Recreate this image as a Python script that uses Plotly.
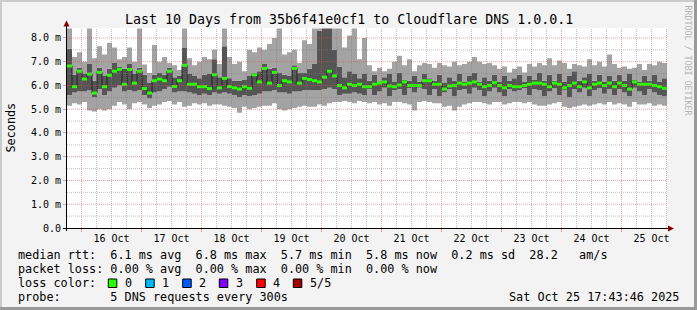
import plotly.graph_objects as go
import pandas as pd

# ---------------- data (2-hour consolidated smoke, values in ms) -------------
rtt_median = [
    6.82, 5.95, 6.60, 6.27, 6.48, 5.68, 6.55, 5.95, 6.43, 6.60,
    6.68, 6.05, 6.67, 6.10, 6.60, 5.87, 5.68, 6.20, 6.27, 6.20,
    6.60, 5.96, 6.20, 6.85, 6.05, 6.05, 5.95, 5.95, 5.87, 6.45,
    5.90, 6.30, 5.95, 5.90, 5.85, 5.95, 5.88, 6.45, 6.15, 6.72,
    6.10, 6.55, 6.00, 6.20, 6.15, 6.72, 6.10, 6.30, 6.25, 6.20,
    6.15, 6.35, 6.60, 6.40, 6.00, 5.90, 6.05, 6.00, 6.05, 5.95,
    5.95, 6.05, 6.10, 6.15, 5.98, 5.95, 6.02, 6.15, 6.00, 6.00,
    6.00, 6.20, 6.20, 6.05, 6.05, 5.85, 5.98, 6.00, 6.10, 6.05,
    6.10, 6.15, 6.05, 5.95, 6.00, 6.12, 6.00, 5.90, 6.00, 5.95,
    5.95, 6.00, 6.05, 6.10, 6.10, 6.05, 5.95, 6.10, 6.05, 5.90,
    6.00, 6.10, 5.95, 6.15, 5.90, 6.05, 6.10, 6.00, 6.10, 5.95,
    6.10, 6.00, 5.85, 6.15, 6.05, 6.05, 6.05, 6.00, 5.95, 5.88,
]
rtt_min = [
    5.15, 5.25, 5.20, 5.30, 4.95, 4.90, 5.00, 4.95, 5.00, 5.15,
    5.30, 5.20, 5.00, 5.25, 5.30, 5.20, 5.05, 5.15, 5.20, 5.30,
    5.35, 5.20, 5.30, 5.10, 5.15, 5.25, 5.20, 5.25, 5.15, 5.20,
    5.20, 5.15, 5.10, 5.05, 4.85, 5.10, 5.00, 5.05, 5.10, 5.15,
    5.15, 5.25, 5.00, 4.95, 5.00, 5.05, 5.10, 5.15, 5.10, 5.10,
    5.20, 5.15, 5.25, 5.30, 5.30, 5.35, 5.30, 5.25, 5.35, 5.30,
    5.25, 5.30, 5.20, 5.25, 5.15, 5.30, 5.30, 5.25, 5.20, 4.95,
    5.30, 5.35, 5.30, 5.25, 5.25, 5.10, 5.15, 4.95, 5.10, 5.20,
    5.25, 5.30, 5.30, 5.25, 5.20, 5.30, 5.30, 5.20, 5.25, 5.30,
    5.30, 5.25, 5.30, 5.20, 5.15, 5.15, 5.20, 5.25, 5.30, 5.10,
    5.05, 5.10, 5.15, 5.20, 5.15, 5.20, 5.25, 5.20, 5.30, 5.20,
    5.25, 5.20, 5.10, 5.30, 5.20, 5.20, 5.25, 5.15, 5.20, 5.15,
]
rtt_q1 = [
    5.60, 5.70, 5.75, 5.75, 5.80, 5.50, 5.85, 5.60, 5.75, 5.90,
    6.00, 5.75, 5.80, 5.75, 5.80, 5.60, 5.45, 5.70, 5.75, 5.85,
    5.95, 5.70, 5.75, 5.75, 5.70, 5.65, 5.60, 5.65, 5.60, 5.70,
    5.65, 5.70, 5.65, 5.60, 5.50, 5.60, 5.55, 5.60, 5.65, 5.75,
    5.75, 5.80, 5.70, 5.70, 5.65, 5.75, 5.75, 5.80, 5.80, 5.80,
    5.80, 5.85, 5.90, 5.85, 5.60, 5.65, 5.65, 5.70, 5.65, 5.60,
    5.85, 5.60, 5.75, 5.90, 5.55, 5.80, 5.85, 5.60, 5.88, 5.70,
    5.90, 5.85, 5.60, 5.85, 5.55, 5.70, 5.85, 5.55, 5.80, 5.85,
    5.65, 5.90, 5.80, 5.55, 5.75, 5.90, 5.70, 5.55, 5.85, 5.75,
    5.80, 5.88, 5.60, 5.85, 5.80, 5.55, 5.75, 5.88, 5.60, 5.80,
    5.50, 5.85, 5.70, 5.90, 5.55, 5.80, 5.88, 5.65, 5.85, 5.60,
    5.85, 5.70, 5.55, 5.90, 5.75, 5.60, 5.85, 5.70, 5.60, 5.55,
]
rtt_q3 = [
    7.55, 6.45, 6.75, 6.50, 6.90, 6.20, 6.75, 6.40, 6.70, 6.95,
    6.80, 6.70, 6.90, 6.50, 6.75, 6.45, 6.10, 6.45, 6.55, 6.45,
    6.75, 6.35, 6.40, 7.60, 6.50, 6.40, 6.30, 6.45, 6.50, 7.10,
    6.35, 7.65, 6.30, 6.20, 6.20, 6.25, 6.40, 6.55, 6.60, 6.90,
    6.70, 6.75, 6.55, 6.45, 6.40, 6.85, 6.55, 6.55, 6.70, 6.90,
    8.30, 8.40, 8.40, 7.50, 6.80, 6.35, 6.60, 6.50, 6.30, 6.50,
    6.20, 6.45, 6.15, 6.35, 6.50, 6.15, 6.55, 6.25, 6.20, 6.40,
    6.15, 6.50, 6.30, 6.20, 6.45, 6.10, 6.35, 6.20, 6.50, 6.15,
    6.40, 6.55, 6.15, 6.35, 6.20, 6.45, 6.15, 6.40, 6.20, 6.30,
    6.45, 6.15, 6.40, 6.25, 6.55, 6.20, 6.45, 6.20, 6.50, 6.15,
    6.40, 6.60, 6.20, 6.35, 6.50, 6.20, 6.45, 6.15, 6.40, 6.20,
    6.45, 6.20, 6.50, 6.25, 6.15, 6.40, 6.20, 6.45, 6.15, 6.30,
]
rtt_max = [
    8.40, 7.20, 7.40, 7.00, 8.40, 7.15, 7.65, 7.30, 7.80, 7.60,
    7.10, 7.20, 7.60, 7.00, 8.40, 6.88, 6.53, 7.70, 7.00, 7.20,
    6.95, 6.85, 6.65, 8.40, 7.15, 6.85, 7.00, 7.20, 7.10, 7.50,
    6.90, 8.40, 7.20, 6.90, 7.00, 6.60, 7.50, 7.40, 7.60, 7.50,
    7.75, 8.00, 8.40, 7.30, 7.40, 7.50, 6.95, 7.90, 7.75, 8.40,
    8.40, 8.40, 8.40, 8.40, 8.40, 7.60, 8.10, 8.40, 7.10, 8.00,
    6.85, 6.60, 6.75, 6.60, 6.70, 7.00, 7.25, 6.85, 7.10, 6.60,
    6.85, 6.95, 6.90, 6.75, 6.95, 6.85, 6.80, 7.00, 6.85, 6.90,
    7.00, 7.20, 7.00, 6.90, 6.95, 6.85, 6.70, 6.80, 6.55, 6.70,
    6.80, 6.55, 6.90, 6.80, 6.95, 6.85, 7.15, 6.85, 7.05, 6.95,
    6.70, 6.90, 6.85, 6.80, 7.10, 6.85, 7.00, 6.80, 7.30, 6.90,
    6.75, 6.80, 6.70, 6.75, 6.90, 6.65, 6.90, 6.85, 7.00, 6.95,
]
y_tick_vals = [0, 1, 2, 3, 4, 5, 6, 7, 8]
y_tick_text = ["0.0", "1.0 m", "2.0 m", "3.0 m", "4.0 m", "5.0 m", "6.0 m", "7.0 m", "8.0 m"]
loss_labels = ["0", "1", "2", "3", "4", "5/5"]
loss_colors = ["#26ff00", "#00b8ff", "#0059ff", "#7e00ff", "#ff0000", "#a10000"]

t_start = pd.Timestamp("2025-10-15 18:12:00")
t_end = t_start + pd.Timedelta(days=10)
step = pd.Timedelta(hours=2)
edges = [t_start + i * step for i in range(len(rtt_median) + 1)]
Y_MAX = 8.42


def ext(a):
    return list(a) + [a[-1]]


LIGHT = "#a3a3a3"
DARK = "#555555"
MONO = "DejaVu Sans Mono"

fig = go.Figure()
common = dict(x=edges, mode="lines", line_shape="hv", hoverinfo="skip", showlegend=False)
fig.add_trace(go.Scatter(y=ext(rtt_min), line=dict(width=0, color=LIGHT), **common))
fig.add_trace(go.Scatter(y=ext(rtt_q1), fill="tonexty", fillcolor=LIGHT, line=dict(width=0, color=LIGHT), **common))
fig.add_trace(go.Scatter(y=ext(rtt_q3), fill="tonexty", fillcolor=DARK, line=dict(width=0, color=DARK), **common))
fig.add_trace(go.Scatter(y=ext(rtt_max), fill="tonexty", fillcolor=LIGHT, line=dict(width=0, color=LIGHT), **common))
# black median step line
fig.add_trace(go.Scatter(y=ext(rtt_median), line=dict(width=1, color="#202020"), **common))
# green (loss 0) median segments
gx, gy = [], []
for i, m in enumerate(rtt_median):
    gx += [edges[i], edges[i + 1], None]
    gy += [m, m, None]
fig.add_trace(go.Scatter(x=gx, y=gy, mode="lines", line=dict(width=3, color=loss_colors[0]),
                         hoverinfo="skip", showlegend=False))

# pixel helpers (plot area x 67..667, y 28..228)
L, R, T, B = 67, 667, 28, 228


def px(x):
    return (x - L) / (R - L)


def py(y):
    return (B - y) / (B - T)


GRID = "rgba(128,128,128,0.5)"
MGRID = "rgba(224,80,80,0.55)"
TICKC = "#e89a9a"
fig.update_layout(
    width=697, height=310, autosize=False,
    margin=dict(l=L, r=697 - R, t=T, b=310 - B, pad=0),
    paper_bgcolor="#f3f3f3", plot_bgcolor="#ffffff",
    font=dict(family=MONO, size=10, color="#000000"),
    xaxis=dict(
        type="date", range=[t_start, t_end],
        tick0="2025-10-16 00:00:00", dtick=86400000, tickformat="%d %b",
        ticklabelmode="period", ticks="outside", ticklen=3, tickcolor=TICKC,
        showgrid=False, showline=False, zeroline=False,
        tickfont=dict(family=MONO, size=10), ticklabelstandoff=-2, fixedrange=True,
    ),
    yaxis=dict(
        range=[0, Y_MAX], tickmode="array", tickvals=y_tick_vals, ticktext=y_tick_text,
        ticks="outside", ticklen=3, tickcolor=TICKC, ticklabelstandoff=0,
        showgrid=False, showline=False, zeroline=False,
        tickfont=dict(family=MONO, size=10), fixedrange=True,
    ),
)

shapes = []
# dotted grid drawn over the graph (rrdtool style)
g = pd.Timestamp("2025-10-16 00:00:00")
k = 0
while g < t_end:
    major = (k % 4 == 0)
    shapes.append(dict(type="line", xref="x", yref="paper", x0=g, x1=g, y0=0, y1=1,
                       line=dict(color=MGRID if major else GRID, width=1, dash="1px,1px"),
                       layer="above"))
    g += pd.Timedelta(hours=6)
    k += 1
for j in range(1, 17):
    v = j * 0.5
    major = (j % 2 == 0)
    shapes.append(dict(type="line", xref="paper", yref="y", x0=0, x1=1, y0=v, y1=v,
                       line=dict(color=MGRID if major else GRID, width=1, dash="1px,1px"),
                       layer="above"))
# frame (3D border)
shapes.append(dict(type="rect", xref="paper", yref="paper", x0=px(0), x1=px(697), y0=py(0), y1=py(2),
                   fillcolor="#cbcbcb", line=dict(width=0), layer="above"))
shapes.append(dict(type="rect", xref="paper", yref="paper", x0=px(0), x1=px(2), y0=py(0), y1=py(310),
                   fillcolor="#cbcbcb", line=dict(width=0), layer="above"))
shapes.append(dict(type="rect", xref="paper", yref="paper", x0=px(0), x1=px(697), y0=py(307), y1=py(310),
                   fillcolor="#999999", line=dict(width=0), layer="above"))
shapes.append(dict(type="rect", xref="paper", yref="paper", x0=px(694), x1=px(697), y0=py(0), y1=py(310),
                   fillcolor="#999999", line=dict(width=0), layer="above"))
# axes
shapes.append(dict(type="line", xref="paper", yref="paper", x0=px(63), x1=px(670), y0=py(228.5), y1=py(228.5),
                   line=dict(color="#000000", width=1), layer="above"))
shapes.append(dict(type="line", xref="paper", yref="paper", x0=px(66.5), x1=px(66.5), y0=py(231), y1=py(24),
                   line=dict(color="#000000", width=1), layer="above"))
# arrows
shapes.append(dict(type="path", xref="paper", yref="paper",
                   path=f"M {px(63.5)} {py(26.5)} L {px(69.5)} {py(26.5)} L {px(66.5)} {py(20.5)} Z",
                   fillcolor="#800000", line=dict(width=0), layer="above"))
shapes.append(dict(type="path", xref="paper", yref="paper",
                   path=f"M {px(668)} {py(225.5)} L {px(668)} {py(231.5)} L {px(674)} {py(228.5)} Z",
                   fillcolor="#800000", line=dict(width=0), layer="above"))
# loss colour boxes
box_x = [108.3, 145.7, 182.7, 219.3, 256.7, 293.3]
for bx, c in zip(box_x, loss_colors):
    shapes.append(dict(type="rect", xref="paper", yref="paper", x0=px(bx), x1=px(bx + 8.5),
                       y0=py(279), y1=py(287.5), fillcolor=c, line=dict(color="#000000", width=1),
                       layer="above"))
fig.update_layout(shapes=shapes)

NB = "\u00a0"


def t(s):
    return s.replace(" ", NB)


ann = []


def add_text(x, y, s, size=11.8, xanchor="left", color="#000000", angle=0):
    ann.append(dict(xref="paper", yref="paper", x=px(x), y=py(y), text=t(s), showarrow=False,
                    xanchor=xanchor, yanchor="middle", textangle=angle,
                    font=dict(family=MONO, size=size, color=color)))


add_text(348.5, 19, "Last 10 Days from 35b6f41e0cf1 to Cloudflare DNS 1.0.0.1", size=13.3, xanchor="center")
add_text(10, 127.5, "Seconds", size=11.8, xanchor="center", angle=-90)
add_text(687.5, 60, "RRDTOOL / TOBI OETIKER", size=8.3, xanchor="center", color="#b4b4b4", angle=90)
add_text(15.5, 254.5, "median rtt:  6.1 ms avg  6.8 ms max  5.7 ms min  5.8 ms now  0.2 ms sd  28.2   am/s")
add_text(15.5, 268.5, "packet loss: 0.00 % avg  0.00 % max  0.00 % min  0.00 % now")
add_text(15.5, 282.5, "loss color:")
lab_x = [123.3, 160.3, 197.3, 234.3, 271.3, 308.3]
for lx, lab in zip(lab_x, loss_labels):
    add_text(lx, 282.5, lab)
add_text(15.5, 296.5, "probe:       5 DNS requests every 300s")
add_text(680.5, 296.5, "Sat Oct 25 17:43:46 2025", xanchor="right")
fig.update_layout(annotations=ann)

fig.write_html("out.html")
